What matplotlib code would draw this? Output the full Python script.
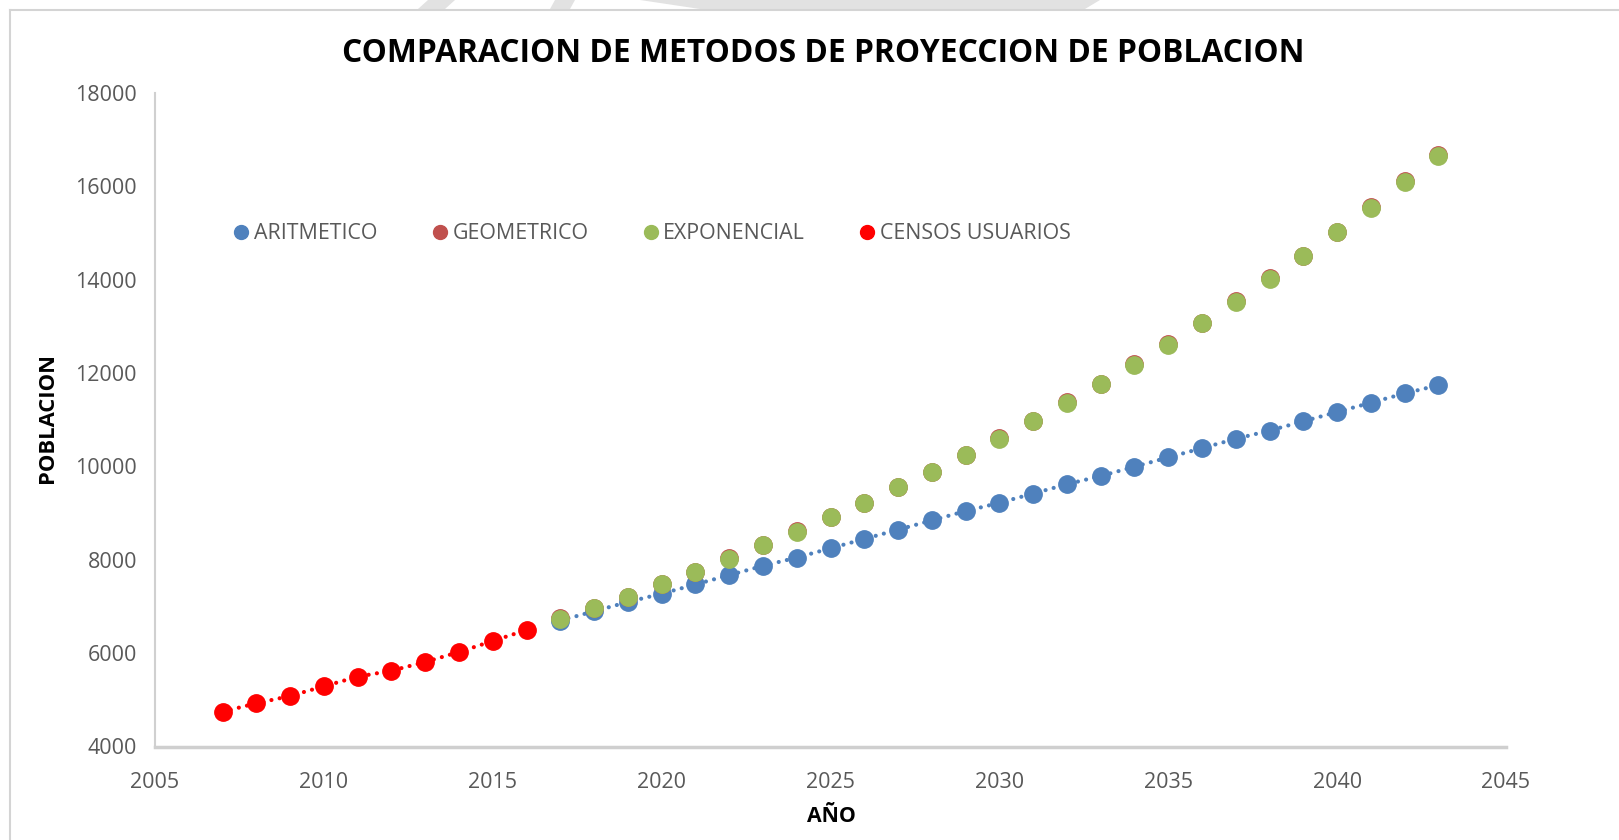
import matplotlib
matplotlib.use("Agg")
import matplotlib.pyplot as plt
from matplotlib.lines import Line2D
from matplotlib.patches import Polygon

# Census records
census_years = list(range(2007, 2017))
census_pop = [4745, 4925, 5082, 5290, 5495, 5624, 5810, 6024, 6260, 6496]

# Projection years
proj_years = list(range(2017, 2044))
aritmetico = [6698, 6897, 7096, 7273, 7472, 7671, 7870, 8047, 8246, 8446,
              8645, 8844, 9043, 9220, 9419, 9618, 9795, 9994, 10193, 10392,
              10591, 10768, 10967, 11166, 11365, 11564, 11741]
exponencial = [6742, 6964, 7207, 7472, 7738, 8025, 8313, 8600, 8910, 9220,
               9551, 9883, 10237, 10591, 10967, 11365, 11763, 12183, 12604, 13068,
               13532, 14019, 14506, 15014, 15545, 16098, 16651]
geometrico = [6747, 6969, 7212, 7478, 7744, 8031, 8319, 8607, 8917, 9227,
              9558, 9891, 10245, 10599, 10976, 11374, 11772, 12192, 12614, 13078,
              13542, 14029, 14517, 15025, 15556, 16109, 16662]

x_ticks = list(range(2005, 2050, 5))
y_ticks = list(range(4000, 20000, 2000))

C_ARIT = "#4F81BD"
C_GEOM = "#C0504D"
C_EXPO = "#9BBB59"
C_CENS = "#FF0000"
TXT = "#595959"
FONT = "Open Sans"

fig = plt.figure(figsize=(16.19, 8.40), dpi=100)
ax = fig.add_axes([155 / 1619, 1 - 746.5 / 840, (1506 - 155) / 1619, (746.5 - 93) / 840])

ms = 12.5
dotted = (0, (0.01, 2.0))
ax.plot(proj_years, aritmetico, linestyle=dotted, color=C_ARIT, lw=3,
        dash_capstyle="round", zorder=1)
ax.plot(proj_years, aritmetico, "o", color=C_ARIT, ms=ms, mec=C_ARIT, zorder=2,
        label="ARITMETICO")
ax.plot(proj_years, geometrico, "o", color=C_GEOM, ms=ms, mec=C_GEOM, zorder=3,
        label="GEOMETRICO")
ax.plot(proj_years, exponencial, "o", color=C_EXPO, ms=ms, mec=C_EXPO, zorder=4,
        label="EXPONENCIAL")
ax.plot(census_years, census_pop, linestyle=dotted, color=C_CENS, lw=3,
        dash_capstyle="round", zorder=5)
ax.plot(census_years, census_pop, "o", color=C_CENS, ms=ms, mec=C_CENS, zorder=6,
        label="CENSOS USUARIOS")

ax.set_xlim(2005, 2045)
ax.set_ylim(4000, 18000)
ax.set_xticks(x_ticks)
ax.set_yticks(y_ticks)
ax.tick_params(length=0, labelsize=15.5, labelcolor=TXT)
for lab in ax.get_xticklabels() + ax.get_yticklabels():
    lab.set_fontfamily(FONT)
ax.tick_params(axis="y", pad=13)
ax.tick_params(axis="x", pad=18)

for s in ("top", "right"):
    ax.spines[s].set_visible(False)
ax.spines["left"].set_color("#D0D0D0")
ax.spines["left"].set_linewidth(1.5)
ax.spines["bottom"].set_color("#CFCFCF")
ax.spines["bottom"].set_linewidth(2.5)

fig.text(823 / 1619, 1 - 53 / 840, "COMPARACION DE METODOS DE PROYECCION DE POBLACION",
         ha="center", va="center", fontsize=22.9, fontweight="bold", family=FONT,
         color="black")
fig.text(831 / 1619, 1 - 817 / 840, "AÑO", ha="center", va="center",
         fontsize=15.3, fontweight="bold", family=FONT, color="black")
fig.text(47.5 / 1619, 1 - 418 / 840, "POBLACION", ha="center", va="center",
         rotation=90, fontsize=15.8, fontweight="bold", family=FONT, color="black")

leg = ax.legend(loc="center left", bbox_to_anchor=((235 - 155) / 1351, (746.5 - 233.5) / 653.5),
                ncol=4, frameon=False, handlelength=0.6, handletextpad=0.3,
                columnspacing=2.6, borderaxespad=0, borderpad=0,
                prop={"family": FONT, "size": 15.4}, markerscale=0.8)
for t in leg.get_texts():
    t.set_color(TXT)

# page border and faint background mark
fig.add_artist(Line2D([10 / 1619, 10 / 1619], [0, 1 - 10 / 840], color="#D4D4D4", lw=1.5))
fig.add_artist(Line2D([10 / 1619, 1], [1 - 10 / 840, 1 - 10 / 840], color="#D4D4D4", lw=1.5))
for pts in ([(428, 0), (455, 0), (445, 9), (418, 9)],
            [(555, 0), (575, 0), (570, 9), (550, 9)],
            [(640, 0), (1100, 0), (1085, 9), (700, 9)]):
    fig.add_artist(Polygon([(x / 1619, 1 - y / 840) for x, y in pts],
                           closed=True, color="#E2E2E2", lw=0))

fig.savefig("out.png", dpi=100, facecolor="white")
